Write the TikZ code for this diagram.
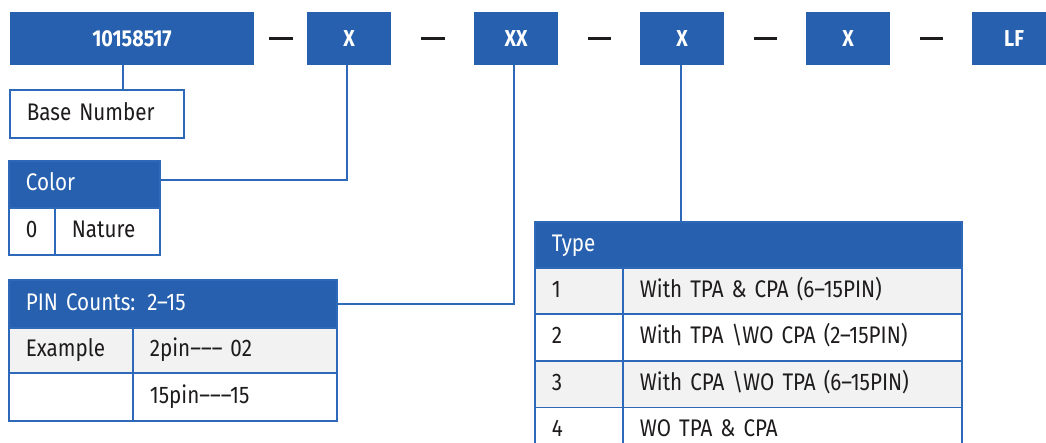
\documentclass[tikz,border=0pt]{standalone}
\usepackage{fontspec}
\setmainfont{Fira Sans}[FakeStretch=0.86]
\definecolor{pblue}{HTML}{2660AE}
\definecolor{bblue}{HTML}{2E68B8}
\definecolor{pgrey}{HTML}{F2F2F3}
\definecolor{ptext}{HTML}{1E1B1C}
\tikzset{
  topbox/.style={fill=pblue, draw=none, minimum height=53pt, inner sep=0pt,
    text=white, font=\fontsize{23}{27}\selectfont\bfseries},
  dashline/.style={draw=ptext, line width=2.6pt},
  conn/.style={draw=bblue, line width=2pt},
  cell/.style={draw=bblue, line width=1.8pt, anchor=north west, inner ysep=0pt,
    inner xsep=17pt, align=left, text=ptext,
    font=\fontsize{24}{28}\selectfont, text height=17pt, text depth=4.5pt},
  head/.style={cell, fill=pblue, text=white},
  grey/.style={fill=pgrey},
  white/.style={fill=white},
}
\begin{document}
\begin{tikzpicture}[x=1pt,y=-1pt]
\useasboundingbox (0,0) rectangle (1046,443);
% top code boxes
\node[topbox, minimum width=244pt] (b0) at (132,38.5) {10158517};
\node[topbox, minimum width=84pt] (b1) at (349,38.5) {X};
\node[topbox, minimum width=84pt] (b2) at (516,38.5) {XX};
\node[topbox, minimum width=84pt] (b3) at (682,38.5) {X};
\node[topbox, minimum width=84pt] (b4) at (848,38.5) {X};
\node[topbox, minimum width=84pt] (b5) at (1014,38.5) {LF};
\draw[dashline, shorten <=15pt, shorten >=14pt] (b0.east) -- (b1.west);
\draw[dashline, shorten <=30pt, shorten >=29pt] (b1.east) -- (b2.west);
\draw[dashline, shorten <=30pt, shorten >=29pt] (b2.east) -- (b3.west);
\draw[dashline, shorten <=30pt, shorten >=29pt] (b3.east) -- (b4.west);
\draw[dashline, shorten <=30pt, shorten >=29pt] (b4.east) -- (b5.west);
% Base number
\node[cell, white, text width=140pt, minimum height=48pt] (base) at (9,89) {Base Number};
% Color
\node[head, text width=117pt, minimum height=47pt] (colhead) at (8,160) {Color};
\node[cell, white, text width=12pt, minimum height=47pt] (col1) at (8,207) {0};
\node[cell, white, text width=71pt, minimum height=47pt] (col2) at (54,207) {Nature};
% PIN counts
\node[head, text width=294pt, minimum height=48pt] (pinhead) at (8,279) {PIN Counts: 2–15};
\node[cell, grey, text width=90pt, minimum height=45pt] (pin11) at (8,327) {Example};
\node[cell, grey, text width=170pt, minimum height=45pt] (pin12) at (132,327) {2pin––– 02};
\node[cell, white, text width=90pt, minimum height=48pt] (pin21) at (8,372) {};
\node[cell, white, text width=170pt, minimum height=48pt] (pin22) at (132,372) {15pin–––15};
% Type
\node[head, text width=393pt, minimum height=46pt] (typehead) at (534,221) {Type};
\node[cell, grey, text width=54pt, minimum height=46.5pt] (t11) at (534,267) {1};
\node[cell, grey, text width=305pt, minimum height=46.5pt] (t12) at (622,267) {With TPA \& CPA (6–15PIN)};
\node[cell, white, text width=54pt, minimum height=46.5pt] (t21) at (534,313.5) {2};
\node[cell, white, text width=305pt, minimum height=46.5pt] (t22) at (622,313.5) {With TPA \textbackslash WO CPA (2–15PIN)};
\node[cell, grey, text width=54pt, minimum height=46.5pt] (t31) at (534,360) {3};
\node[cell, grey, text width=305pt, minimum height=46.5pt] (t32) at (622,360) {With CPA \textbackslash WO TPA (6–15PIN)};
\node[cell, white, text width=54pt, minimum height=46.5pt] (t41) at (534,406.5) {4};
\node[cell, white, text width=305pt, minimum height=46.5pt] (t42) at (622,406.5) {WO TPA \& CPA};
% connectors
\draw[conn] ([xshift=-9pt]b0.south) -- ([xshift=-9pt]b0.south |- base.north);
\draw[conn] ([xshift=-2pt]b1.south) |- ([yshift=4.5pt]colhead.east);
\draw[conn] ([xshift=-2pt]b2.south) |- (pinhead.east);
\draw[conn] ([xshift=-1pt]b3.south) -- ([xshift=-1pt]b3.south |- typehead.north);
\end{tikzpicture}
\end{document}
